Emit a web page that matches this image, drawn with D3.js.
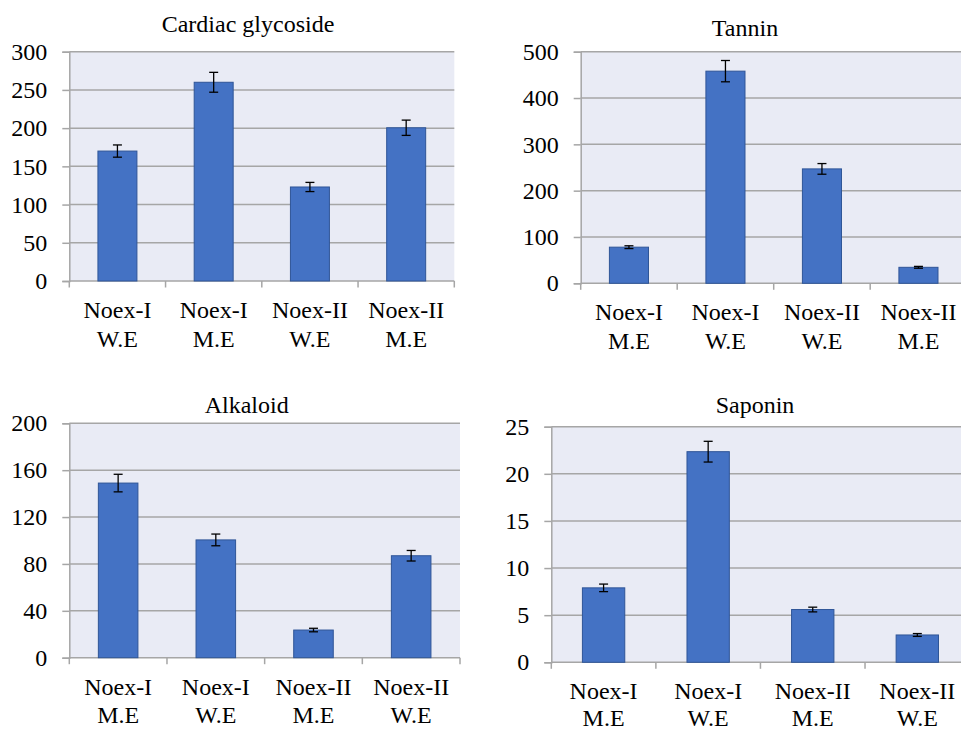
<!DOCTYPE html>
<html>
<head>
<meta charset="utf-8">
<script src="https://cdn.jsdelivr.net/npm/d3@7"></script>
<style>
  html, body { margin: 0; padding: 0; background: #ffffff; }
  svg { display: block; }
</style>
</head>
<body>
<svg id="chart" width="961" height="729" font-family="Liberation Serif"></svg>
<script>
// ---- data ----
const titles = ["Cardiac glycoside", "Tannin", "Alkaloid", "Saponin"];

const cardiacCategories = ["Noex-I|W.E", "Noex-I|M.E", "Noex-II|W.E", "Noex-II|M.E"];
const cardiacValues = [170, 260, 123, 200.5];
const cardiacErrors = [8, 13, 6, 10];
const cardiacTicks = [0, 50, 100, 150, 200, 250, 300];

const tanninCategories = ["Noex-I|M.E", "Noex-I|W.E", "Noex-II|W.E", "Noex-II|M.E"];
const tanninValues = [78, 458, 247, 34.5];
const tanninErrors = [3, 23, 11.5, 2];
const tanninTicks = [0, 100, 200, 300, 400, 500];

const alkaloidCategories = ["Noex-I|M.E", "Noex-I|W.E", "Noex-II|M.E", "Noex-II|W.E"];
const alkaloidValues = [149, 100.5, 23.6, 87];
const alkaloidErrors = [7.5, 5, 1.5, 4.5];
const alkaloidTicks = [0, 40, 80, 120, 160, 200];

const saponinCategories = ["Noex-I|M.E", "Noex-I|W.E", "Noex-II|M.E", "Noex-II|W.E"];
const saponinValues = [7.9, 22.35, 5.6, 2.9];
const saponinErrors = [0.4, 1.1, 0.25, 0.15];
const saponinTicks = [0, 5, 10, 15, 20, 25];

// ---- layout (positions only) ----
const panels = [
  { title: titles[0], cats: cardiacCategories, vals: cardiacValues, errs: cardiacErrors, ticks: cardiacTicks,
    left: 69.3, right: 454.3, top: 51.7, bottom: 281, titleX: 248, titleY: 32 },
  { title: titles[1], cats: tanninCategories, vals: tanninValues, errs: tanninErrors, ticks: tanninTicks,
    left: 580.7, right: 966.7, top: 51.7, bottom: 283.3, titleX: 745, titleY: 36 },
  { title: titles[2], cats: alkaloidCategories, vals: alkaloidValues, errs: alkaloidErrors, ticks: alkaloidTicks,
    left: 69.3, right: 460, top: 423.3, bottom: 657.7, titleX: 246.7, titleY: 413 },
  { title: titles[3], cats: saponinCategories, vals: saponinValues, errs: saponinErrors, ticks: saponinTicks,
    left: 551.3, right: 969.6, top: 426.7, bottom: 662.3, titleX: 755, titleY: 413 }
];

const FONT = "Liberation Serif";
const svg = d3.select("#chart");
const gridColor = "#a6a6a6";
const bgColor = "#e9ebf5";
const barColor = "#4472c4";
const barStroke = "#2f5597";

panels.forEach(p => {
  const g = svg.append("g");
  const x = d3.scaleBand().domain(p.cats).range([p.left, p.right]).paddingInner(0).paddingOuter(0);
  const y = d3.scaleLinear().domain([0, d3.max(p.ticks)]).range([p.bottom, p.top]);

  g.append("rect")
    .attr("x", p.left).attr("y", p.top)
    .attr("width", p.right - p.left).attr("height", p.bottom - p.top)
    .attr("fill", bgColor);

  const yAxis = d3.axisLeft(y).tickValues(p.ticks).tickSize(7).tickPadding(15).tickFormat(d3.format("d"));
  const ya = g.append("g").attr("transform", `translate(${p.left},0)`).call(yAxis);
  ya.attr("font-family", FONT).attr("font-size", 24);
  ya.select(".domain").attr("stroke", gridColor).attr("stroke-width", 1.5);
  ya.selectAll(".tick line").attr("stroke", gridColor).attr("stroke-width", 1.5);
  ya.selectAll(".tick text").attr("font-family", FONT).attr("font-size", 24).attr("fill", "#000");

  g.append("g").selectAll("line").data(p.ticks).join("line")
    .attr("x1", p.left).attr("x2", p.right)
    .attr("y1", d => y(d)).attr("y2", d => y(d))
    .attr("stroke", gridColor).attr("stroke-width", 1.5);

  const bounds = p.cats.map(c => x(c)).concat([p.right]);
  g.append("g").selectAll("line").data(bounds).join("line")
    .attr("x1", d => d).attr("x2", d => d)
    .attr("y1", p.bottom).attr("y2", p.bottom + 6.5)
    .attr("stroke", gridColor).attr("stroke-width", 1.5);

  const bw = x.bandwidth() * 0.405;
  g.append("g").selectAll("rect").data(p.cats).join("rect")
    .attr("x", c => x(c) + (x.bandwidth() - bw) / 2)
    .attr("y", (c, i) => y(p.vals[i]))
    .attr("width", bw)
    .attr("height", (c, i) => y(0) - y(p.vals[i]))
    .attr("fill", barColor)
    .attr("stroke", barStroke).attr("stroke-width", 1);

  const eb = g.append("g").attr("stroke", "#000").attr("stroke-width", 1.3);
  p.cats.forEach((c, i) => {
    const cx = x(c) + x.bandwidth() / 2;
    const hi = y(p.vals[i] + p.errs[i]);
    const lo = y(p.vals[i] - p.errs[i]);
    eb.append("line").attr("x1", cx).attr("x2", cx).attr("y1", hi).attr("y2", lo);
    eb.append("line").attr("x1", cx - 4.5).attr("x2", cx + 4.5).attr("y1", hi).attr("y2", hi);
    eb.append("line").attr("x1", cx - 4.5).attr("x2", cx + 4.5).attr("y1", lo).attr("y2", lo);
  });

  p.cats.forEach(c => {
    const cx = x(c) + x.bandwidth() / 2;
    const parts = c.split("|");
    const t = g.append("text").attr("text-anchor", "middle")
      .attr("font-family", FONT).attr("font-size", 24).attr("fill", "#000");
    t.append("tspan").attr("x", cx).attr("y", p.bottom + 37).text(parts[0]);
    t.append("tspan").attr("x", cx).attr("y", Math.min(p.bottom + 65.5, 726)).text(parts[1]);
  });

  g.append("text").attr("x", p.titleX).attr("y", p.titleY)
    .attr("text-anchor", "middle")
    .attr("font-family", FONT).attr("font-size", 24).attr("fill", "#000")
    .text(p.title);
});
</script>
</body>
</html>
